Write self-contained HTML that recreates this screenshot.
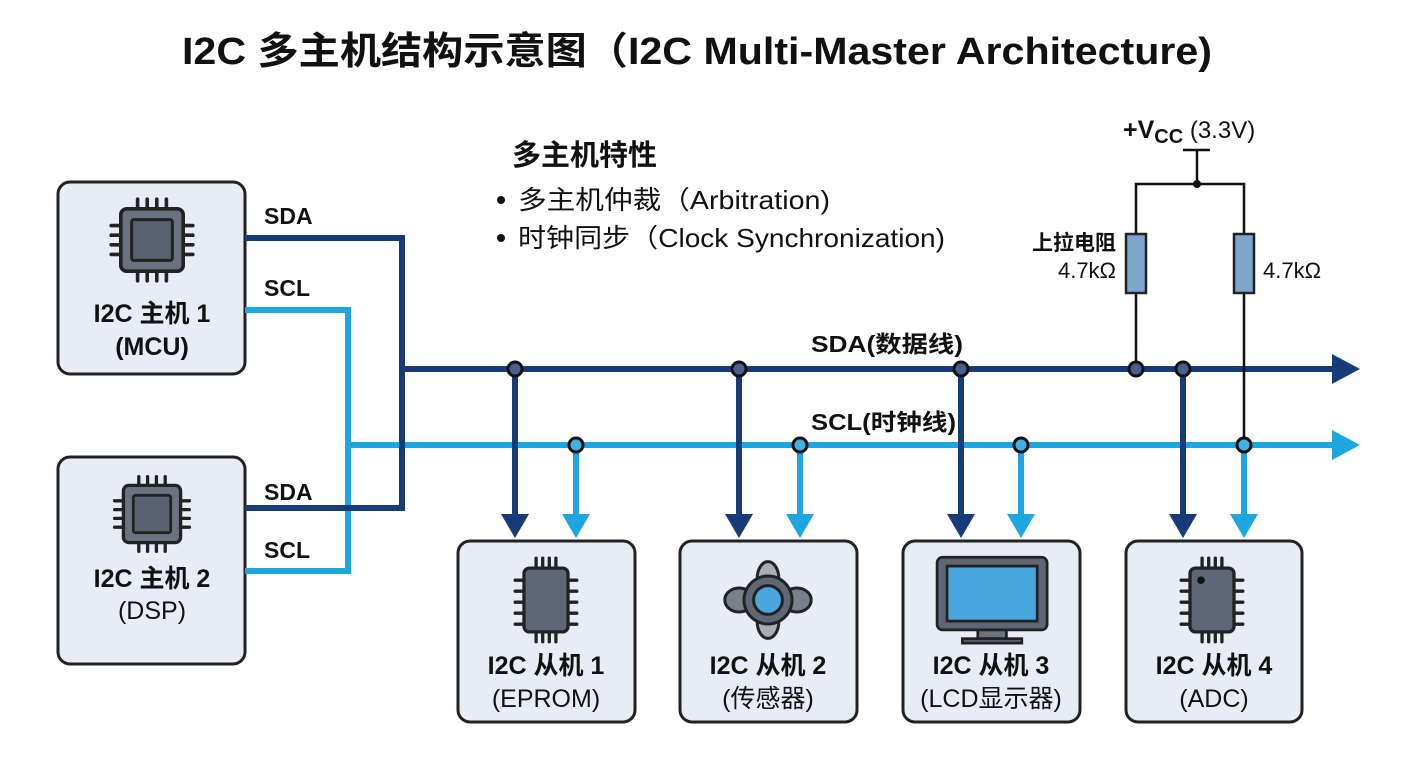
<!DOCTYPE html>
<html><head><meta charset="utf-8"><style>
html,body{margin:0;padding:0;background:#fff;}
svg{display:block;font-family:"Liberation Sans","Noto Sans CJK SC",sans-serif;}
</style></head><body>
<svg width="1408" height="768" viewBox="0 0 1408 768" xmlns="http://www.w3.org/2000/svg">
<defs>
<g id="chip">
  <g stroke="#222" stroke-width="3" stroke-linecap="round">
    <line x1="-12" y1="-34" x2="-12" y2="-26"/><line x1="-4" y1="-34" x2="-4" y2="-26"/><line x1="4" y1="-34" x2="4" y2="-26"/><line x1="12" y1="-34" x2="12" y2="-26"/>
    <line x1="-12" y1="34" x2="-12" y2="26"/><line x1="-4" y1="34" x2="-4" y2="26"/><line x1="4" y1="34" x2="4" y2="26"/><line x1="12" y1="34" x2="12" y2="26"/>
    <line y1="-12" x1="-34" y2="-12" x2="-26"/><line y1="-4" x1="-34" y2="-4" x2="-26"/><line y1="4" x1="-34" y2="4" x2="-26"/><line y1="12" x1="-34" y2="12" x2="-26"/>
    <line y1="-12" x1="34" y2="-12" x2="26"/><line y1="-4" x1="34" y2="-4" x2="26"/><line y1="4" x1="34" y2="4" x2="26"/><line y1="12" x1="34" y2="12" x2="26"/>
  </g>
  <rect x="-26" y="-26" width="52" height="52" rx="5" fill="#6b7280" stroke="#222" stroke-width="3"/>
  <rect x="-17" y="-17" width="34" height="34" rx="2" fill="#5a6272" stroke="#222" stroke-width="2.5"/>
</g>
<g id="chip2">
  <g stroke="#222" stroke-width="3" stroke-linecap="round">
    <line x1="-9" y1="-38" x2="-9" y2="-28"/><line x1="-3" y1="-38" x2="-3" y2="-28"/><line x1="3" y1="-38" x2="3" y2="-28"/><line x1="9" y1="-38" x2="9" y2="-28"/>
    <line x1="-9" y1="38" x2="-9" y2="28"/><line x1="-3" y1="38" x2="-3" y2="28"/><line x1="3" y1="38" x2="3" y2="28"/><line x1="9" y1="38" x2="9" y2="28"/>
    <line y1="-18" x1="-28" y2="-18" x2="-20"/><line y1="-8" x1="-28" y2="-8" x2="-20"/><line y1="2" x1="-28" y2="2" x2="-20"/><line y1="12" x1="-28" y2="12" x2="-20"/><line y1="22" x1="-28" y2="22" x2="-20"/>
    <line y1="-18" x1="28" y2="-18" x2="20"/><line y1="-8" x1="28" y2="-8" x2="20"/><line y1="2" x1="28" y2="2" x2="20"/><line y1="12" x1="28" y2="12" x2="20"/><line y1="22" x1="28" y2="22" x2="20"/>
  </g>
  <rect x="-20" y="-29" width="40" height="58" rx="5" fill="#5f6675" stroke="#222" stroke-width="3"/>
</g>
</defs>

<text x="697" y="64" text-anchor="middle" font-size="38" font-weight="bold" fill="#111" textLength="1030" lengthAdjust="spacingAndGlyphs">I2C 多主机结构示意图（I2C Multi-Master Architecture)</text>

<!-- features -->
<text x="512" y="165" font-size="29" font-weight="bold" fill="#111">多主机特性</text>
<circle cx="501" cy="200" r="4" fill="#111"/>
<text x="518" y="209" font-size="26" fill="#111" textLength="312" lengthAdjust="spacingAndGlyphs">多主机仲裁（Arbitration)</text>
<circle cx="501" cy="238" r="4" fill="#111"/>
<text x="518" y="247" font-size="26" fill="#111" textLength="427" lengthAdjust="spacingAndGlyphs">时钟同步（Clock Synchronization)</text>

<!-- master boxes -->
<rect x="58" y="182" width="187" height="192" rx="12" fill="#e8ecf4" stroke="#222" stroke-width="3"/>
<rect x="58" y="457" width="187" height="207" rx="12" fill="#e8ecf4" stroke="#222" stroke-width="3"/>
<use href="#chip" transform="translate(152,240) scale(1.2)"/>
<use href="#chip" transform="translate(152,514) scale(1.1)"/>
<text x="152" y="322" text-anchor="middle" font-size="25" font-weight="bold" fill="#111">I2C 主机 1</text>
<text x="152" y="355" text-anchor="middle" font-size="25" font-weight="bold" fill="#111">(MCU)</text>
<text x="152" y="587" text-anchor="middle" font-size="25" font-weight="bold" fill="#111">I2C 主机 2</text>
<text x="152" y="619" text-anchor="middle" font-size="25" fill="#111">(DSP)</text>

<!-- master wires -->
<g fill="none" stroke-width="6">
  <polyline points="245,310 348,310 348,571 245,571" stroke="#1ea6e0"/>
  <line x1="348" y1="445" x2="1340" y2="445" stroke="#1ea6e0"/>
  <polyline points="245,238 402,238 402,508 245,508" stroke="#173a78"/>
  <line x1="402" y1="369" x2="1340" y2="369" stroke="#173a78"/>
</g>
<polygon points="1332,354 1360,369 1332,384" fill="#173a78"/>
<polygon points="1332,430 1360,445 1332,460" fill="#1ea6e0"/>
<g font-size="23" font-weight="bold" fill="#111">
<text x="264" y="224">SDA</text><text x="264" y="296">SCL</text>
<text x="264" y="500">SDA</text><text x="264" y="558">SCL</text>
<text x="811" y="352" textLength="152" lengthAdjust="spacingAndGlyphs">SDA(数据线)</text><text x="811" y="430" textLength="145" lengthAdjust="spacingAndGlyphs">SCL(时钟线)</text>
</g>

<!-- pull-ups -->
<g stroke="#111" stroke-width="2.5" fill="none">
  <polyline points="1136,369 1136,184 1244,184 1244,445"/>
  <line x1="1197" y1="184" x2="1197" y2="150"/>
  <line x1="1183" y1="150" x2="1210" y2="150"/>
</g>
<circle cx="1197" cy="184" r="4" fill="#111"/>
<rect x="1126" y="234" width="20" height="59" fill="#7ea5cc" stroke="#222" stroke-width="2.5"/>
<rect x="1234" y="234" width="20" height="59" fill="#7ea5cc" stroke="#222" stroke-width="2.5"/>
<text x="1123" y="138" font-size="25" font-weight="bold" fill="#111">+V<tspan font-size="20" dy="5">CC</tspan><tspan dy="-5" font-weight="normal" font-size="24"> (3.3V)</tspan></text>
<text x="1116" y="250" text-anchor="end" font-size="21" font-weight="bold" fill="#111">上拉电阻</text>
<text x="1116" y="278" text-anchor="end" font-size="22" fill="#111">4.7kΩ</text>
<text x="1263" y="278" font-size="22" fill="#111">4.7kΩ</text>

<!-- taps -->
<g stroke-width="6">
  <line x1="515" y1="369" x2="515" y2="520" stroke="#173a78"/>
  <line x1="739" y1="369" x2="739" y2="520" stroke="#173a78"/>
  <line x1="961" y1="369" x2="961" y2="520" stroke="#173a78"/>
  <line x1="1183" y1="369" x2="1183" y2="520" stroke="#173a78"/>
  <line x1="576" y1="445" x2="576" y2="520" stroke="#1ea6e0"/>
  <line x1="800" y1="445" x2="800" y2="520" stroke="#1ea6e0"/>
  <line x1="1021" y1="445" x2="1021" y2="520" stroke="#1ea6e0"/>
  <line x1="1244" y1="445" x2="1244" y2="520" stroke="#1ea6e0"/>
</g>
<g fill="#173a78">
  <polygon points="501,514 529,514 515,538"/><polygon points="725,514 753,514 739,538"/>
  <polygon points="947,514 975,514 961,538"/><polygon points="1169,514 1197,514 1183,538"/>
</g>
<g fill="#1ea6e0">
  <polygon points="562,514 590,514 576,538"/><polygon points="786,514 814,514 800,538"/>
  <polygon points="1007,514 1035,514 1021,538"/><polygon points="1230,514 1258,514 1244,538"/>
</g>
<g stroke="#111" stroke-width="3">
  <circle cx="515" cy="369" r="7" fill="#4a5f8e"/><circle cx="739" cy="369" r="7" fill="#4a5f8e"/>
  <circle cx="961" cy="369" r="7" fill="#4a5f8e"/><circle cx="1136" cy="369" r="7" fill="#4a5f8e"/>
  <circle cx="1183" cy="369" r="7" fill="#4a5f8e"/>
  <circle cx="576" cy="445" r="7" fill="#3fb2e6"/><circle cx="800" cy="445" r="7" fill="#3fb2e6"/>
  <circle cx="1021" cy="445" r="7" fill="#3fb2e6"/><circle cx="1244" cy="445" r="7" fill="#3fb2e6"/>
</g>

<!-- slaves -->
<g fill="#e8ecf4" stroke="#222" stroke-width="3">
  <rect x="458" y="541" width="177" height="181" rx="12"/>
  <rect x="680" y="541" width="177" height="181" rx="12"/>
  <rect x="903" y="541" width="177" height="181" rx="12"/>
  <rect x="1126" y="541" width="176" height="181" rx="12"/>
</g>
<use href="#chip2" transform="translate(546,600) scale(1.1)"/>
<g transform="translate(1212,600) scale(1.1)">
  <use href="#chip2"/>
  <circle cx="-10" cy="-18" r="3.5" fill="#111"/>
</g>
<!-- sensor -->
<g transform="translate(768,600) scale(1.2)" stroke="#222" stroke-width="2.5">
  <ellipse cx="0" cy="-18" rx="9" ry="14" fill="#a9adb4"/>
  <ellipse cx="0" cy="18" rx="9" ry="14" fill="#a9adb4"/>
  <ellipse cx="-24" cy="0" rx="12" ry="10" fill="#7a808a"/>
  <ellipse cx="24" cy="0" rx="12" ry="10" fill="#7a808a"/>
  <circle r="20" fill="#5f6675"/>
  <circle r="12" fill="#4aa6de"/>
</g>
<!-- monitor -->
<g transform="translate(991,598) scale(1.1)" stroke="#222" stroke-width="2.5">
  <rect x="-49" y="-37" width="100" height="66" rx="5" fill="#5f6675"/>
  <rect x="-40" y="-29" width="82" height="50" fill="#4aa6de"/>
  <rect x="-12" y="29" width="26" height="8" fill="#6b7280"/>
  <rect x="-26" y="37" width="54" height="4" fill="#5f6675"/>
</g>
<g font-size="25" fill="#111" text-anchor="middle">
  <text x="546" y="674" font-weight="bold">I2C 从机 1</text><text x="546" y="707">(EPROM)</text>
  <text x="768" y="674" font-weight="bold">I2C 从机 2</text><text x="768" y="707">(传感器)</text>
  <text x="991" y="674" font-weight="bold">I2C 从机 3</text><text x="991" y="707">(LCD显示器)</text>
  <text x="1214" y="674" font-weight="bold">I2C 从机 4</text><text x="1214" y="707">(ADC)</text>
</g>
</svg>
</body></html>
